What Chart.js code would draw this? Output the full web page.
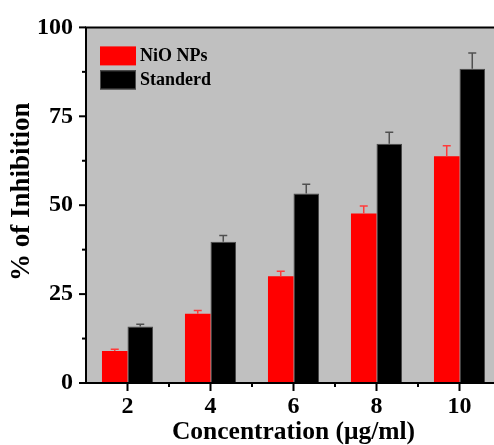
<!DOCTYPE html>
<html><head><meta charset="utf-8">
<script src="https://cdn.jsdelivr.net/npm/chart.js@4/dist/chart.umd.min.js"></script>
<style>html,body{margin:0;padding:0;overflow:hidden;background:#fff;width:494px;height:445px}</style>
</head><body>
<div style="position:relative;width:494px;height:445px;overflow:hidden"><canvas id="c" width="510" height="445"></canvas></div>
<script>
const categories = ['2', '4', '6', '8', '10'];
const nioValues = [9.0, 19.5, 30.0, 47.7, 63.8];
const nioErrors = [0.5, 0.9, 1.4, 2.1, 2.9];
const stdValues = [15.9, 39.7, 53.3, 67.3, 88.4];
const stdErrors = [0.6, 1.8, 2.6, 3.2, 4.4];
const yTicks = [0, 25, 50, 75, 100];
const yMinorTicks = [12.5, 37.5, 62.5, 87.5];

const FONT = "'Liberation Serif', 'Times New Roman', serif";

const deco = {
  id: 'deco',
  beforeDraw(chart) {
    const {ctx, chartArea: a} = chart;
    ctx.save();
    ctx.fillStyle = '#c0c0c0';
    ctx.fillRect(a.left, a.top, a.right - a.left, a.bottom - a.top);
    ctx.restore();
  },
  afterDatasetsDraw(chart) {
    const {ctx} = chart;
    const ys = chart.scales.y;
    chart.data.datasets.forEach((ds, di) => {
      const meta = chart.getDatasetMeta(di);
      ctx.save();
      ctx.strokeStyle = ds.errorColor;
      ctx.lineWidth = 1.5;
      meta.data.forEach((bar, i) => {
        const top = ys.getPixelForValue(ds.data[i] + ds.errors[i]);
        ctx.beginPath();
        ctx.moveTo(bar.x, bar.y);
        ctx.lineTo(bar.x, top);
        ctx.moveTo(bar.x - 4, top);
        ctx.lineTo(bar.x + 4, top);
        ctx.stroke();
      });
      ctx.restore();
    });
  },
  afterDraw(chart) {
    const {ctx, chartArea: a} = chart;
    const xs = chart.scales.x, ys = chart.scales.y;
    ctx.save();
    ctx.strokeStyle = '#000';
    ctx.lineWidth = 2;
    ctx.beginPath();
    ctx.moveTo(a.right, a.top); ctx.lineTo(a.left, a.top);
    ctx.lineTo(a.left, a.bottom); ctx.lineTo(a.right, a.bottom);
    ctx.stroke();
    yTicks.forEach(v => {
      const y = ys.getPixelForValue(v);
      ctx.beginPath(); ctx.moveTo(a.left, y); ctx.lineTo(a.left - 7, y); ctx.stroke();
    });
    yMinorTicks.forEach(v => {
      const y = ys.getPixelForValue(v);
      ctx.beginPath(); ctx.moveTo(a.left, y); ctx.lineTo(a.left - 4, y); ctx.stroke();
    });
    const n = categories.length;
    for (let i = 0; i < n; i++) {
      const x = xs.getPixelForValue(i);
      ctx.beginPath(); ctx.moveTo(x, a.bottom); ctx.lineTo(x, a.bottom + 8); ctx.stroke();
      if (i < n - 1) {
        const xm = (x + xs.getPixelForValue(i + 1)) / 2;
        ctx.beginPath(); ctx.moveTo(xm, a.bottom); ctx.lineTo(xm, a.bottom + 4); ctx.stroke();
      }
    }
    ctx.font = 'bold 18px ' + FONT;
    ctx.textBaseline = 'middle';
    ctx.textAlign = 'left';
    chart.data.datasets.forEach((ds, di) => {
      const bx = a.left + 14, by = a.top + 19 + di * 24;
      ctx.fillStyle = ds.backgroundColor;
      ctx.fillRect(bx, by, 36, 19);
      if (ds.borderWidth) {
        ctx.lineWidth = 1; ctx.strokeStyle = ds.borderColor;
        ctx.strokeRect(bx + 0.5, by + 0.5, 35, 18);
      }
      ctx.fillStyle = '#000';
      ctx.fillText(ds.label, bx + 40, by + 10);
    });
    ctx.restore();
  }
};

new Chart(document.getElementById('c'), {
  type: 'bar',
  data: {
    labels: categories,
    datasets: [
      {label: 'NiO NPs', data: nioValues, errors: nioErrors, backgroundColor: '#ff0000', borderWidth: 0, errorColor: '#ff3a3a'},
      {label: 'Standerd', data: stdValues, errors: stdErrors, backgroundColor: '#000000', borderColor: '#4a4a4a', borderWidth: 1, errorColor: '#505050'}
    ]
  },
  options: {
    responsive: false,
    animation: false,
    devicePixelRatio: 1,
    categoryPercentage: 0.615,
    barPercentage: 1.0,
    layout: {padding: {left: 0, top: 26, right: 9, bottom: 0}},
    plugins: {legend: {display: false}, tooltip: {enabled: false}},
    scales: {
      x: {
        grid: {display: false, drawTicks: false},
        border: {display: false},
        ticks: {color: '#000', padding: 9, font: {family: FONT, size: 24, weight: 'bold'}},
        title: {display: true, text: 'Concentration (μg/ml)', color: '#000', padding: 0,
                font: {family: FONT, size: 25.5, weight: 'bold', lineHeight: 1}},
        afterFit(s) { s.height = 62; }
      },
      y: {
        min: 0, max: 100,
        grid: {display: false, drawTicks: false},
        border: {display: false},
        afterBuildTicks(s) { s.ticks = yTicks.map(v => ({value: v})); },
        ticks: {color: '#000', padding: 13, font: {family: FONT, size: 24, weight: 'bold'}},
        title: {display: true, text: '    % of Inhibition', color: '#000', padding: {top: 9, bottom: 0},
                font: {family: FONT, size: 27, weight: 'bold', lineHeight: 1}},
        afterFit(s) { s.width = 86; }
      }
    }
  },
  plugins: [deco]
});
</script>
</body></html>
